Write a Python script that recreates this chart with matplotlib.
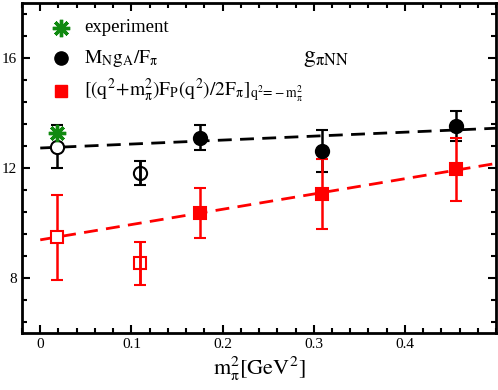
import matplotlib
matplotlib.use("Agg")
import matplotlib.pyplot as plt
from matplotlib.ticker import MultipleLocator

plt.rcParams['font.family'] = ['Liberation Serif', 'DejaVu Serif']
plt.rcParams['mathtext.fontset'] = 'stix'

# Data
exp_x = [0.0187]
exp_y = [13.27]

gA_x = [0.0187, 0.109, 0.175, 0.3095, 0.456]
gA_y = [12.78, 11.82, 13.10, 12.62, 13.53]
gA_err = [0.79, 0.44, 0.46, 0.78, 0.56]

fp_x = [0.0187, 0.109, 0.175, 0.3095, 0.456]
fp_y = [9.48, 8.53, 10.37, 11.07, 11.95]
fp_err = [1.55, 0.80, 0.92, 1.27, 1.14]

# Fit lines (endpoints)
fit_x = [0.0, 0.5]
fit_gA = [12.73, 13.45]
fit_fp = [9.39, 12.17]

fig = plt.figure(figsize=(4.98, 3.90), dpi=100)
ax = fig.add_axes([0.0442, 0.146, 0.952, 0.846])

ax.plot(fit_x, fit_gA, ls=(0, (5, 3)), color='black', lw=2.0, zorder=1)
ax.plot(fit_x, fit_fp, ls=(0, (5, 3)), color='red', lw=2.0, zorder=1)

ms_c = 9.5
ms_s = 8
# black circles
for i, (x, y, e) in enumerate(zip(gA_x, gA_y, gA_err)):
    fc = 'white' if i == 0 else ('none' if i == 1 else 'black')
    ax.errorbar([x], [y], yerr=[e], fmt='o', color='black', mfc=fc, mec='black',
                mew=1.5, ms=ms_c, elinewidth=1.8, capsize=4.5, capthick=1.8, zorder=3)
    if i == 1:
        ax.vlines([x], [y - e], [y + e], color='black', lw=1.8, zorder=4)
# red squares
for i, (x, y, e) in enumerate(zip(fp_x, fp_y, fp_err)):
    fc = 'white' if i == 0 else ('none' if i == 1 else 'red')
    ax.errorbar([x], [y], yerr=[e], fmt='s', color='red', mfc=fc, mec='red',
                mew=1.5, ms=ms_s, elinewidth=1.8, capsize=4.5, capthick=1.8, zorder=3)
    if i == 1:
        ax.vlines([x], [y - e], [y + e], color='red', lw=1.8, zorder=4)

ax.plot(exp_x, exp_y, ls='none', marker=(8, 2, 0), ms=12.5, mew=2.4, color='#108a10', zorder=5)

ax.set_xlim(-0.02, 0.5)
ax.set_ylim(6, 18)
ax.xaxis.set_major_locator(MultipleLocator(0.1))
ax.xaxis.set_minor_locator(MultipleLocator(0.02))
ax.yaxis.set_major_locator(MultipleLocator(4))
ax.yaxis.set_minor_locator(MultipleLocator(0.8))
ax.tick_params(which='both', direction='in', top=True, right=True, width=1.5,
               labelsize=11)
ax.tick_params(which='major', length=6)
ax.tick_params(which='minor', length=3.5)
ax.set_xticks([0, 0.1, 0.2, 0.3, 0.4])
ax.set_xticklabels(['0', '0.1', '0.2', '0.3', '0.4'])
for s in ax.spines.values():
    s.set_linewidth(2)

ax.set_xlabel(r'$\mathrm{m_{\pi}^{2}[GeV^{2}]}$', fontsize=16, labelpad=3)

# legend (manual)
leg_mx = 0.0225
leg_x = 0.048
ax.plot([leg_mx], [17.1], ls='none', marker=(8, 2, 0), ms=12.5, mew=2.4, color='#108a10')
ax.plot([leg_mx], [16.0], ls='none', marker='o', ms=ms_c, color='black')
ax.plot([leg_mx], [14.8], ls='none', marker='s', ms=ms_s, color='red')
ax.text(leg_x, 17.1, 'experiment', fontsize=13.5, va='center', ha='left')
ax.text(leg_x, 16.0, r'$\mathrm{M_N g_A/F_{\pi}}$', fontsize=14, va='center', ha='left')
ax.text(leg_x, 14.8, r'$\mathrm{[(q^2\!+\!m_{\pi}^2)F_P(q^2)/2F_{\pi}]_{q^2\!=\!-m_{\pi}^2}}$',
        fontsize=14, va='center', ha='left')

ax.text(0.288, 16.0, r'$\mathrm{g_{\pi NN}}$', fontsize=17, va='center', ha='left')

fig.savefig('out.png', dpi=100)
